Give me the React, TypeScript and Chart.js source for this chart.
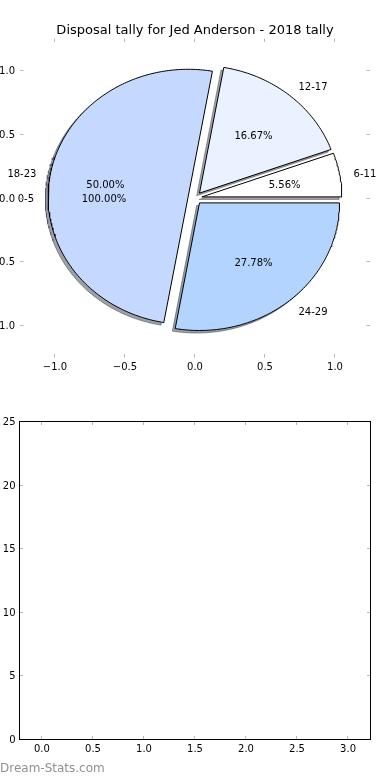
import React, { useEffect, useRef } from 'react';
import { Chart, registerables } from 'chart.js';

Chart.register(...registerables);

const FONT = '"DejaVu Sans", Verdana, sans-serif';

// ---- data ----
const chartTitle = 'Disposal tally for Jed Anderson - 2018 tally';
const categories = ['6-11', '12-17', '18-23', '24-29'];
const tallies = [1, 3, 9, 5];
const sliceColors = ['#FFFFFF', '#EAF2FF', '#C5D9FF', '#B3D4FF'];
// a second single-wedge pie that only shows its texts
const hiddenCategories = ['0-5'];
const hiddenTallies = [1];
const explode = 0.05;
const pieTicks = [-1.0, -0.5, 0.0, 0.5, 1.0];
const lowerXTicks = [0, 0.5, 1, 1.5, 2, 2.5, 3];
const lowerYTicks = [0, 5, 10, 15, 20, 25];
const watermark = 'Dream-Stats.com';

type Wedge = { label: string; t1: number; t2: number; mid: number; cx: number; cy: number; frac: number };

function layoutWedges(labels: string[], values: number[]): Wedge[] {
  const total = values.reduce((a, b) => a + b, 0);
  let theta = 0;
  return values.map((v, i) => {
    const frac = v / total;
    const t1 = theta;
    const t2 = theta + 360 * frac;
    theta = t2;
    const mid = (((t1 + t2) / 2) * Math.PI) / 180;
    return { label: labels[i], t1, t2, mid, frac, cx: explode * Math.cos(mid), cy: explode * Math.sin(mid) };
  });
}

function wedgePath(w: Wedge, dx = 0, dy = 0) {
  const pts = [{ x: w.cx + dx, y: w.cy + dy }];
  const steps = Math.max(2, Math.ceil(w.t2 - w.t1));
  for (let k = 0; k <= steps; k++) {
    const a = ((w.t1 + ((w.t2 - w.t1) * k) / steps) * Math.PI) / 180;
    pts.push({ x: w.cx + dx + Math.cos(a), y: w.cy + dy + Math.sin(a) });
  }
  pts.push({ x: w.cx + dx, y: w.cy + dy });
  return pts;
}

function shadowColor(hex: string) {
  const n = parseInt(hex.slice(1), 16);
  const r = (n >> 16) & 255, g = (n >> 8) & 255, b = n & 255;
  return `rgba(${Math.round(r * 0.3)},${Math.round(g * 0.3)},${Math.round(b * 0.3)},0.5)`;
}

const fmt1 = (v: number) => v.toFixed(1).replace('-', '\u2212');

function tickMarkPlugin(frame: boolean) {
  return {
    id: 'tickMarks' + (frame ? 'F' : ''),
    afterDraw(chart: any) {
      const { ctx } = chart;
      const { left, right, top, bottom } = chart.chartArea;
      const xs = chart.scales.x, ys = chart.scales.y;
      ctx.save();
      ctx.strokeStyle = '#b8b8b8';
      ctx.lineWidth = 1;
      ctx.beginPath();
      xs.ticks.forEach((t: any) => {
        const p = Math.round(xs.getPixelForValue(t.value)) - 0.5;
        ctx.moveTo(p, bottom); ctx.lineTo(p, bottom - 3.5);
        ctx.moveTo(p, top); ctx.lineTo(p, top + 3.5);
      });
      ys.ticks.forEach((t: any) => {
        const p = Math.floor(ys.getPixelForValue(t.value)) + 0.5;
        ctx.moveTo(left, p); ctx.lineTo(left + 3.5, p);
        ctx.moveTo(right, p); ctx.lineTo(right - 3.5, p);
      });
      ctx.stroke();
      if (frame) {
        ctx.strokeStyle = '#000';
        ctx.lineWidth = 1;
        ctx.strokeRect(left, top, right - left, bottom - top);
      }
      ctx.restore();
    },
  };
}

function fixedTicks(arr: number[]) {
  return (s: any) => {
    s.ticks = arr.map((v) => ({ value: v }));
  };
}

const tickFont = { family: FONT, size: 10 };

function PieChart() {
  const ref = useRef<HTMLCanvasElement>(null);
  useEffect(() => {
    const wedges = layoutWedges(categories, tallies);
    const hidden = layoutWedges(hiddenCategories, hiddenTallies);
    const datasets: any[] = [
      ...wedges.map((w, i) => ({
        label: w.label + ' shadow',
        data: wedgePath(w, -0.02, -0.02),
        showLine: true,
        fill: 'shape',
        backgroundColor: shadowColor(sliceColors[i]),
        borderColor: shadowColor(sliceColors[i]),
        borderWidth: 1,
        pointRadius: 0,
        order: 100 - i,
      })),
      ...wedges.map((w, i) => ({
        label: w.label,
        data: wedgePath(w),
        showLine: true,
        fill: 'shape',
        backgroundColor: sliceColors[i],
        borderColor: '#000000',
        borderWidth: 1,
        borderJoinStyle: 'miter',
        pointRadius: 0,
        order: 50 - i,
      })),
    ];
    const labelPlugin = {
      id: 'pieLabels',
      afterDatasetsDraw(chart: any) {
        const { ctx } = chart;
        const xs = chart.scales.x, ys = chart.scales.y;
        ctx.save();
        ctx.fillStyle = '#000';
        ctx.font = `10px ${FONT}`;
        ctx.textBaseline = 'middle';
        [...wedges, ...hidden].forEach((w) => {
          const lx = w.cx + 1.1 * Math.cos(w.mid);
          const ly = w.cy + 1.1 * Math.sin(w.mid);
          ctx.textAlign = lx > 0 ? 'left' : 'right';
          ctx.fillText(w.label, xs.getPixelForValue(lx), ys.getPixelForValue(ly) + 1.5);
          const px = w.cx + 0.6 * Math.cos(w.mid);
          const py = w.cy + 0.6 * Math.sin(w.mid);
          ctx.textAlign = 'center';
          ctx.fillText((w.frac * 100).toFixed(2) + '%', xs.getPixelForValue(px), ys.getPixelForValue(py) + 1.5);
        });
        ctx.restore();
      },
    };
    const chart = new Chart(ref.current as HTMLCanvasElement, {
      type: 'scatter',
      data: { datasets },
      options: {
        animation: false,
        responsive: true,
        maintainAspectRatio: false,
        events: [],
        layout: { padding: { left: 0, right: 0, top: 0, bottom: 0 } },
        plugins: {
          legend: { display: false },
          tooltip: { enabled: false },
          title: {
            display: true,
            text: chartTitle,
            color: '#000',
            font: { family: FONT, size: 13, weight: 'normal' },
            padding: { top: 22.9, bottom: 0 },
          },
        },
        scales: {
          x: {
            type: 'linear',
            min: -1.25,
            max: 1.25,
            grid: { display: false, drawTicks: false },
            border: { display: false },
            afterBuildTicks: fixedTicks(pieTicks),
            afterFit: (s: any) => { s.height = 32.5; },
            ticks: { color: '#000', font: tickFont, padding: 4, autoSkip: false, maxRotation: 0, callback: (v: any) => fmt1(Number(v)) },
          },
          y: {
            type: 'linear',
            min: -1.25,
            max: 1.25,
            grid: { display: false, drawTicks: false },
            border: { display: false },
            afterBuildTicks: fixedTicks(pieTicks),
            afterFit: (s: any) => { s.width = 20; },
            ticks: { color: '#000', font: tickFont, padding: 5, labelOffset: 1, autoSkip: false, callback: (v: any) => fmt1(Number(v)) },
          },
          yRight: {
            type: 'linear',
            position: 'right',
            min: -1.25,
            max: 1.25,
            grid: { display: false, drawTicks: false },
            border: { display: false },
            ticks: { display: false },
            afterFit: (s: any) => { s.width = 20; },
          },
        },
      } as any,
      plugins: [tickMarkPlugin(false), labelPlugin],
    });
    return () => chart.destroy();
  }, []);
  return (
    <div style={{ position: 'absolute', left: 0, top: 0, width: 390, height: 390 }}>
      <canvas ref={ref} />
    </div>
  );
}

function EmptyChart() {
  const ref = useRef<HTMLCanvasElement>(null);
  useEffect(() => {
    const chart = new Chart(ref.current as HTMLCanvasElement, {
      type: 'scatter',
      data: { datasets: [] },
      options: {
        animation: false,
        responsive: true,
        maintainAspectRatio: false,
        events: [],
        layout: { padding: { left: 0, right: 19.5, top: 31.5, bottom: 0 } },
        plugins: { legend: { display: false }, tooltip: { enabled: false } },
        scales: {
          x: {
            type: 'linear',
            min: -0.22,
            max: 3.22,
            grid: { display: false, drawTicks: false },
            border: { display: false },
            afterBuildTicks: fixedTicks(lowerXTicks),
            afterFit: (s: any) => { s.height = 40.5; },
            ticks: { color: '#000', font: tickFont, padding: 4, autoSkip: false, maxRotation: 0, callback: (v: any) => fmt1(Number(v)) },
          },
          y: {
            type: 'linear',
            min: 0,
            max: 25,
            grid: { display: false, drawTicks: false },
            border: { display: false },
            afterBuildTicks: fixedTicks(lowerYTicks),
            afterFit: (s: any) => { s.width = 19.5; },
            ticks: { color: '#000', font: tickFont, padding: 4, labelOffset: 1, autoSkip: false, callback: (v: any) => String(Math.round(Number(v))) },
          },
        },
      } as any,
      plugins: [tickMarkPlugin(true)],
    });
    return () => chart.destroy();
  }, []);
  return (
    <div style={{ position: 'absolute', left: 0, top: 390, width: 390, height: 390 }}>
      <canvas ref={ref} />
    </div>
  );
}

export default function App() {
  return (
    <div style={{ position: 'absolute', left: 0, top: 0, width: 390, height: 780, background: '#fff', overflow: 'hidden' }}>
      <PieChart />
      <EmptyChart />
      <div
        style={{
          position: 'absolute',
          left: 0,
          top: 760,
          fontFamily: FONT,
          fontSize: 12,
          lineHeight: '16px',
          color: '#909090',
          whiteSpace: 'nowrap',
        }}
      >
        {watermark}
      </div>
    </div>
  );
}
